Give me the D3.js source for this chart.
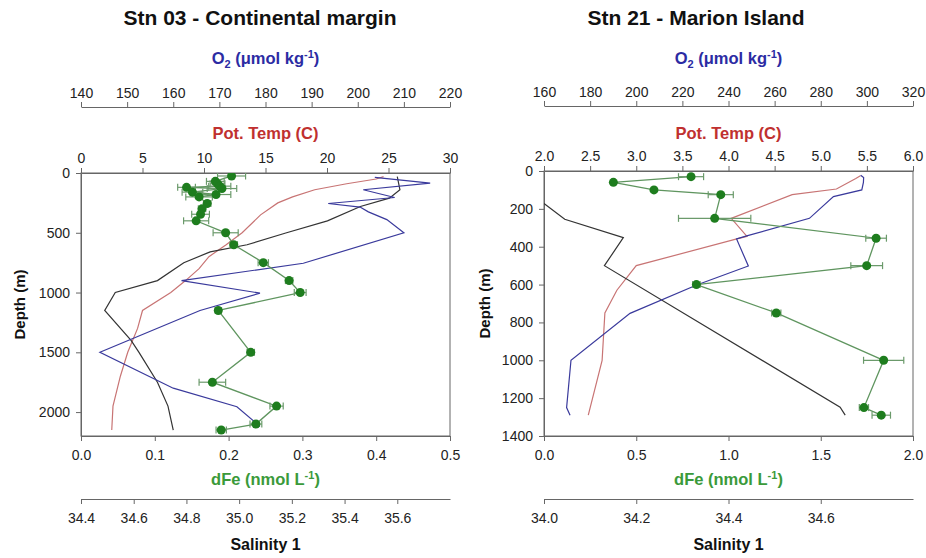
<!DOCTYPE html>
<html>
<head>
<meta charset="utf-8">
<script src="https://cdn.jsdelivr.net/npm/d3@7"></script>
<style>
  body { margin: 0; background: #fff; }
  svg { display: block; font-family: "Liberation Sans", Arial, sans-serif; }
  .tick text { font-size: 14px; fill: #222; }
  .domain, .tick line { stroke: #666; }
</style>
</head>
<body>
<svg id="chart" width="926" height="558"></svg>
<script>
// ---- Stn 03 - Continental margin ----
// dissolved Fe: [depth m, dFe nmol/L, error]
const stn03Fe = [
  [25, 0.204, 0.019], [70, 0.182, 0.012], [90, 0.185, 0.010], [110, 0.188, 0.015],
  [120, 0.143, 0.012], [130, 0.191, 0.020], [160, 0.151, 0.014], [180, 0.183, 0.020],
  [200, 0.160, 0.018], [255, 0.171, 0.005], [300, 0.164, 0.005], [345, 0.162, 0.012],
  [400, 0.156, 0.017], [500, 0.196, 0.017], [600, 0.207, 0.005], [750, 0.247, 0.007],
  [900, 0.282, 0.005], [1000, 0.297, 0.008], [1150, 0.186, 0.004], [1500, 0.230, 0.005],
  [1750, 0.178, 0.018], [1950, 0.265, 0.009], [2100, 0.237, 0.008], [2150, 0.190, 0.007]
];
// potential temperature: [depth, degC]
const stn03Temp = [
  [30, 24.6], [50, 24.0], [90, 21.6], [140, 19.0], [200, 17.2], [250, 16.0], [350, 14.6],
  [500, 13.1], [600, 11.8], [700, 10.4], [800, 9.6], [900, 8.5], [1000, 7.3], [1150, 5.0],
  [1300, 4.6], [1500, 3.8], [1700, 3.2], [1950, 2.6], [2150, 2.5]
];
// oxygen: [depth, umol/kg]
const stn03O2 = [
  [36, 203.7], [85, 215.7], [140, 201.2], [205, 208.0], [255, 193.6], [285, 200.5],
  [325, 202.3], [390, 206.3], [500, 210.0], [755, 188.2], [900, 161.8], [1005, 178.8],
  [1150, 165.8], [1500, 144.1], [1800, 160.0], [1955, 173.8], [2120, 178.8]
];
// salinity: [depth, psu]
const stn03Sal = [
  [30, 35.600], [140, 35.610], [210, 35.570], [280, 35.460], [400, 35.335], [500, 35.180],
  [600, 35.030], [660, 34.890], [750, 34.790], [900, 34.690], [1000, 34.530], [1150, 34.490],
  [1400, 34.590], [1500, 34.620], [1750, 34.690], [1950, 34.730], [2150, 34.750]
];
const stn03DepthTicks = [0, 500, 1000, 1500, 2000];
const stn03O2Ticks = [140, 150, 160, 170, 180, 190, 200, 210, 220];
const stn03TempTicks = [0, 5, 10, 15, 20, 25, 30];
const stn03FeTicks = [0, 0.1, 0.2, 0.3, 0.4, 0.5];
const stn03SalTicks = [34.4, 34.6, 34.8, 35.0, 35.2, 35.4, 35.6];

// ---- Stn 21 - Marion Island ----
const stn21Fe = [
  [30, 0.797, 0.068], [60, 0.376, 0.0], [100, 0.596, 0.0], [125, 0.958, 0.068],
  [250, 0.925, 0.196], [355, 1.800, 0.056], [500, 1.749, 0.086], [600, 0.826, 0.020],
  [750, 1.259, 0.025], [1000, 1.841, 0.109], [1250, 1.734, 0.025], [1290, 1.828, 0.050]
];
const stn21Temp = [
  [25, 5.43], [40, 5.38], [95, 5.17], [125, 4.69], [250, 4.03], [345, 4.20], [360, 4.08],
  [500, 3.00], [630, 2.79], [750, 2.66], [1000, 2.63], [1290, 2.48]
];
const stn21O2 = [
  [22, 297.3], [35, 298.6], [60, 298.5], [100, 297.8], [135, 285.5], [250, 275.1],
  [343, 247.9], [359, 243.5], [502, 248.6], [602, 226.2], [752, 197.3], [1000, 171.7],
  [1250, 169.8], [1290, 171.3]
];
const stn21Sal = [
  [172, 34.000], [255, 34.045], [352, 34.172], [500, 34.131], [1248, 34.642], [1290, 34.653]
];
const stn21DepthTicks = [0, 200, 400, 600, 800, 1000, 1200, 1400];
const stn21O2Ticks = [160, 180, 200, 220, 240, 260, 280, 300, 320];
const stn21TempTicks = [2.0, 2.5, 3.0, 3.5, 4.0, 4.5, 5.0, 5.5, 6.0];
const stn21FeTicks = [0, 0.5, 1.0, 1.5, 2.0];
const stn21SalTicks = [34.0, 34.2, 34.4, 34.6];

const COL = {
  o2: "#3a3a9c", o2Text: "#2b2ba3",
  temp: "#c87474", tempText: "#c0302f",
  sal: "#333333",
  fe: "#1e7d1e", feLine: "#5f955f", feErr: "#6b9a6b", feText: "#3a9a3a"
};

const svg = d3.select("#chart");

function drawPanel(p) {
  const g = svg.append("g");
  const { x0, x1, y0, y1 } = p.box;

  const y = d3.scaleLinear().domain(p.depthDomain).range([y0, y1]);
  const xO2 = d3.scaleLinear().domain(p.o2Domain).range([x0, x1]);
  const xT = d3.scaleLinear().domain(p.tempDomain).range([x0, x1]);
  const xFe = d3.scaleLinear().domain(p.feDomain).range([x0, x1]);
  const xS = d3.scaleLinear().domain(p.salDomain).range([x0, x1]);

  // plot frame
  g.append("rect").attr("x", x0).attr("y", y0).attr("width", x1 - x0).attr("height", y1 - y0)
    .attr("fill", "none").attr("stroke", "#666").attr("stroke-width", 1);

  const clipId = "clip" + p.id;
  g.append("clipPath").attr("id", clipId).append("rect")
    .attr("x", x0).attr("y", y0).attr("width", x1 - x0).attr("height", y1 - y0);

  // axes
  g.append("g").attr("transform", `translate(0,${p.o2AxisY})`)
    .call(d3.axisTop(xO2).tickValues(p.o2Ticks).tickSize(5).tickSizeOuter(0).tickPadding(4).tickFormat(d3.format("d")));
  g.append("g").attr("transform", `translate(0,${y0})`)
    .call(d3.axisTop(xT).tickValues(p.tempTicks).tickSize(5).tickSizeOuter(0).tickPadding(5).tickFormat(d3.format(p.tempFmt)));
  g.append("g").attr("transform", `translate(0,${y1})`)
    .call(d3.axisBottom(xFe).tickValues(p.feTicks).tickSize(5).tickSizeOuter(0).tickPadding(9).tickFormat(d3.format(".1f")));
  g.append("g").attr("transform", `translate(0,${p.salAxisY})`)
    .call(d3.axisBottom(xS).tickValues(p.salTicks).tickSize(5).tickSizeOuter(0).tickPadding(9).tickFormat(d3.format(".1f")));
  g.append("g").attr("transform", `translate(${x0},0)`)
    .call(d3.axisLeft(y).tickValues(p.depthTicks).tickSize(5).tickSizeOuter(0).tickPadding(6).tickFormat(d3.format("d")));

  g.selectAll(".domain").attr("stroke", "#666");

  const cx = (x0 + x1) / 2;
  // titles
  g.append("text").attr("x", p.titleX).attr("y", 25).attr("text-anchor", "middle")
    .attr("font-size", 21).attr("font-weight", "bold").attr("fill", "#111").text(p.title);

  const o2t = g.append("text").attr("x", cx).attr("y", 64).attr("text-anchor", "middle")
    .attr("font-size", 16.5).attr("font-weight", "bold").attr("fill", COL.o2Text);
  o2t.append("tspan").text("O");
  o2t.append("tspan").attr("font-size", 11).attr("dy", 4).text("2");
  o2t.append("tspan").attr("dy", -4).text(" (\u03bcmol kg");
  o2t.append("tspan").attr("font-size", 11).attr("dy", -6).text("-1");
  o2t.append("tspan").attr("dy", 6).text(")");

  g.append("text").attr("x", cx).attr("y", 139).attr("text-anchor", "middle")
    .attr("font-size", 16.5).attr("font-weight", "bold").attr("fill", COL.tempText).text("Pot. Temp (C)");

  const fet = g.append("text").attr("x", cx).attr("y", 485).attr("text-anchor", "middle")
    .attr("font-size", 16.5).attr("font-weight", "bold").attr("fill", COL.feText);
  fet.append("tspan").text("dFe (nmol L");
  fet.append("tspan").attr("font-size", 11).attr("dy", -6).text("-1");
  fet.append("tspan").attr("dy", 6).text(")");

  g.append("text").attr("x", cx).attr("y", 550).attr("text-anchor", "middle")
    .attr("font-size", 16).attr("font-weight", "bold").attr("fill", "#111").text("Salinity 1");

  g.append("text").attr("transform", `translate(${p.depthLabelX},${(y0 + y1) / 2}) rotate(-90)`)
    .attr("text-anchor", "middle").attr("font-size", 15).attr("font-weight", "bold")
    .attr("fill", "#111").text("Depth (m)");

  // profiles
  const plot = g.append("g").attr("clip-path", `url(#${clipId})`);
  const line = xs => d3.line().x(d => xs(d[1])).y(d => y(d[0]));

  plot.append("path").datum(p.temp).attr("d", line(xT))
    .attr("fill", "none").attr("stroke", COL.temp).attr("stroke-width", 1.2);
  plot.append("path").datum(p.sal).attr("d", line(xS))
    .attr("fill", "none").attr("stroke", COL.sal).attr("stroke-width", 1.2);
  plot.append("path").datum(p.o2).attr("d", line(xO2))
    .attr("fill", "none").attr("stroke", COL.o2).attr("stroke-width", 1.2);

  plot.append("path").datum(p.fe).attr("d", line(xFe))
    .attr("fill", "none").attr("stroke", COL.feLine).attr("stroke-width", 1.3);

  const err = plot.append("g").attr("stroke", COL.feErr).attr("stroke-width", 1.2)
    .selectAll("g").data(p.fe.filter(d => d[2] > 0)).join("g");
  err.append("line").attr("x1", d => xFe(d[1] - d[2])).attr("x2", d => xFe(d[1] + d[2]))
    .attr("y1", d => y(d[0])).attr("y2", d => y(d[0]));
  err.append("line").attr("x1", d => xFe(d[1] - d[2])).attr("x2", d => xFe(d[1] - d[2]))
    .attr("y1", d => y(d[0]) - 3.5).attr("y2", d => y(d[0]) + 3.5);
  err.append("line").attr("x1", d => xFe(d[1] + d[2])).attr("x2", d => xFe(d[1] + d[2]))
    .attr("y1", d => y(d[0]) - 3.5).attr("y2", d => y(d[0]) + 3.5);

  plot.append("g").selectAll("circle").data(p.fe).join("circle")
    .attr("cx", d => xFe(d[1])).attr("cy", d => y(d[0])).attr("r", 4.5)
    .attr("fill", COL.fe);
}

drawPanel({
  id: "03", title: "Stn 03 - Continental margin", titleX: 260,
  box: { x0: 81, x1: 450, y0: 173, y1: 436 },
  depthDomain: [0, 2200], o2Domain: [140, 220], tempDomain: [0, 30],
  feDomain: [0, 0.5], salDomain: [34.4, 35.8],
  o2Ticks: stn03O2Ticks, tempTicks: stn03TempTicks, tempFmt: "d",
  feTicks: stn03FeTicks, salTicks: stn03SalTicks, depthTicks: stn03DepthTicks,
  o2AxisY: 107, salAxisY: 499, depthLabelX: 25,
  fe: stn03Fe, temp: stn03Temp, o2: stn03O2, sal: stn03Sal
});

drawPanel({
  id: "21", title: "Stn 21 - Marion Island", titleX: 696,
  box: { x0: 544, x1: 913, y0: 171, y1: 436 },
  depthDomain: [0, 1400], o2Domain: [160, 320], tempDomain: [2, 6],
  feDomain: [0, 2], salDomain: [34.0, 34.8],
  o2Ticks: stn21O2Ticks, tempTicks: stn21TempTicks, tempFmt: ".1f",
  feTicks: stn21FeTicks, salTicks: stn21SalTicks, depthTicks: stn21DepthTicks,
  o2AxisY: 106, salAxisY: 499, depthLabelX: 490,
  fe: stn21Fe, temp: stn21Temp, o2: stn21O2, sal: stn21Sal
});
</script>
</body>
</html>
